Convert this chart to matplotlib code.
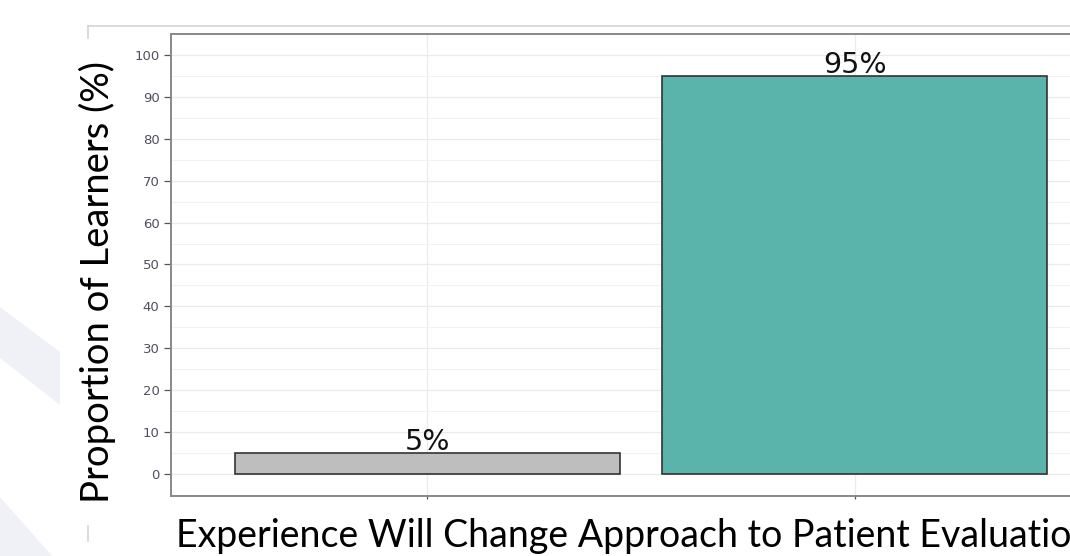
import numpy as np
import matplotlib.pyplot as plt
from matplotlib.patches import Polygon
from matplotlib.lines import Line2D

# data
categories = ["No", "Yes"]
proportions = [5, 95]
bar_labels = ["5%", "95%"]
bar_colors = ["#BEBEBE", "#5BB4AC"]
yticks = list(range(0, 101, 10))

W, H = 1070, 556
fig = plt.figure(figsize=(W / 100, H / 100), dpi=100)

# faint slide decoration on the left
def px(x, y):
    return (x / W, 1 - y / H)

for pts in ([(0, 307), (60, 352), (60, 405), (0, 358)],
            [(0, 497), (52, 556), (0, 556)]):
    fig.patches.append(Polygon([px(*p) for p in pts], closed=True,
                               transform=fig.transFigure, facecolor="#F0F1F7",
                               edgecolor="none", zorder=0))

# light frame of the pasted picture
for xs, ys in (([88, 1070], [26, 26]), ([88, 88], [26, 38]), ([88, 88], [526, 541])):
    fig.add_artist(Line2D([x / W for x in xs], [1 - y / H for y in ys],
                          transform=fig.transFigure, color="#D4D4D4", lw=1.2))

# axes run past the right edge, like the cropped screenshot
ax = fig.add_axes([170.7 / W, 1 - 496 / H, 940.5 / W, 462 / H])
x = np.arange(1, len(categories) + 1)
ax.bar(x, proportions, width=0.9, color=bar_colors, edgecolor="#333333",
       linewidth=1.2, zorder=3)
for xi, v, lab in zip(x, proportions, bar_labels):
    ax.text(xi, v + 0.7, lab, ha="center", va="baseline", fontsize=20.5,
            family="DejaVu Sans", color="#111111", zorder=4)

ax.set_xlim(0.4, 2.6)
ax.set_ylim(-5.25, 105)
ax.set_yticks(yticks)
ax.set_yticks(np.arange(-5, 106, 10), minor=True)
ax.set_xticks(x)
ax.set_xticklabels([])
ax.tick_params(axis="y", which="major", length=5, width=0.9, color="#555555",
               labelsize=9.5, labelcolor="#505060", pad=3)
ax.tick_params(axis="y", which="minor", length=0)
ax.tick_params(axis="x", length=2.5, width=0.9, color="#555555")
for lab in ax.get_yticklabels():
    lab.set_family("DejaVu Sans")

ax.grid(True, which="major", color="#EBEBEB", lw=0.9, zorder=0)
ax.grid(True, which="minor", axis="y", color="#F2F2F2", lw=0.7, zorder=0)
ax.set_axisbelow(True)
for s in ax.spines.values():
    s.set_color("#888888")
    s.set_linewidth(1.4)

fig.text(97 / W, 1 - 503 / H, "Proportion of Learners (%)", rotation=90,
         ha="center", va="bottom", fontsize=27.5, family="Lato", color="black")
fig.text(176 / W, 1 - 547 / H, "Experience Will Change Approach to Patient Evaluation",
         ha="left", va="baseline", fontsize=27, family="Lato", color="black")

fig.savefig("out.png", dpi=100)
